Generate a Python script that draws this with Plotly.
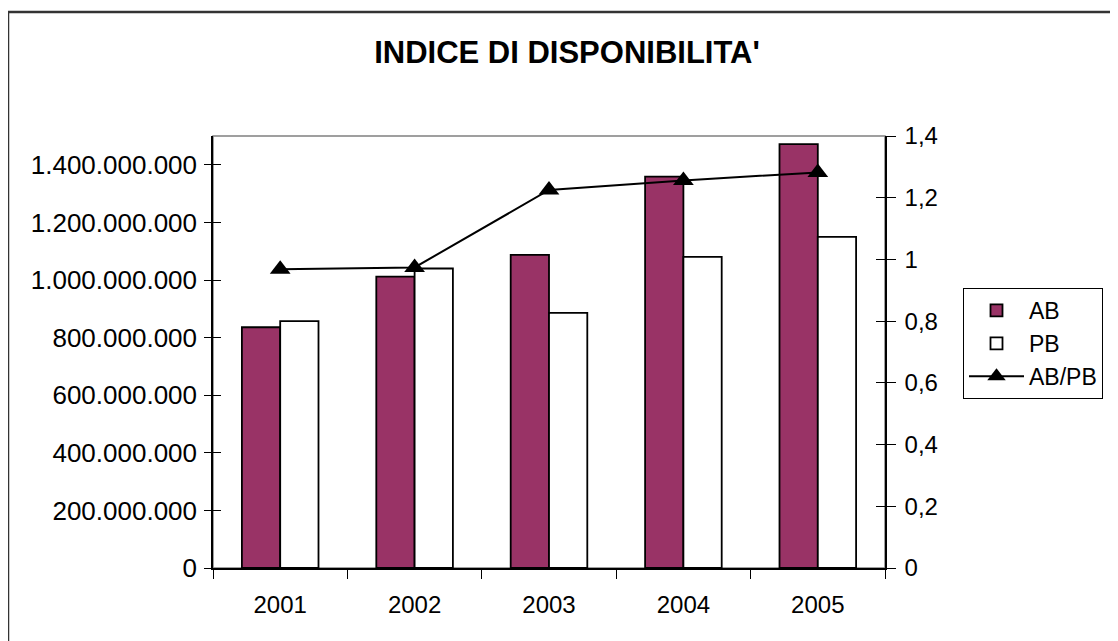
import plotly.graph_objects as go

years = ["2001", "2002", "2003", "2004", "2005"]
ab = [836e6, 1012e6, 1087e6, 1359e6, 1472e6]
pb = [857e6, 1040e6, 886e6, 1080e6, 1150e6]
ratio = [0.968, 0.974, 1.225, 1.256, 1.282]

W, H = 1118, 641
OFF = 8  # page body margin offset
L, R, T, B = 213 - OFF, 885 - OFF, 136 - OFF, 568 - OFF
FONT = "Arial, Liberation Sans, sans-serif"

def px_x(px):
    return (px - OFF - L) / (R - L)

def px_y(py):
    return (B - (py - OFF)) / (B - T)

fig = go.Figure()
fig.add_trace(go.Bar(x=years, y=ab, name="AB", marker=dict(color="#993366", line=dict(color="black", width=1.8))))
fig.add_trace(go.Bar(x=years, y=pb, name="PB", marker=dict(color="white", line=dict(color="black", width=1.8))))
fig.add_trace(go.Scatter(x=years, y=ratio, name="AB/PB", yaxis="y2", mode="lines+markers",
                         line=dict(color="black", width=2),
                         marker=dict(symbol="triangle-up", size=18, color="black")))

fig.update_layout(
    width=W, height=H,
    margin=dict(l=L, r=W - R, t=T, b=H - B),
    paper_bgcolor="white", plot_bgcolor="white",
    separators=",.",
    font=dict(family=FONT, size=24, color="black"),
    title=dict(text="<b>INDICE DI DISPONIBILITA'</b>", x=(567 - OFF) / W, xanchor="center",
               y=1 - (52 - OFF) / H, yanchor="middle", font=dict(size=31, family=FONT, color="black")),
    barmode="group", bargap=0.43, bargroupgap=0,
    showlegend=True,
    legend=dict(x=px_x(963), y=px_y(288), xanchor="left", yanchor="top",
                bordercolor="black", borderwidth=1, bgcolor="white",
                font=dict(size=23, family=FONT), tracegroupgap=0, itemwidth=55,
                entrywidth=165, entrywidthmode="pixels"),
    xaxis=dict(type="category", showline=True, linecolor="black", linewidth=1.5,
               ticks="outside", ticklen=9, tickcolor="black", tickson="boundaries",
               showgrid=False, tickfont=dict(size=24), ticklabelstandoff=14),
    yaxis=dict(range=[0, 1.5e9], dtick=2e8, tickformat=",d", showline=True, linecolor="black",
               linewidth=1.5, ticks="outside", ticklen=7, tickcolor="black", showgrid=False,
               zeroline=False, tickfont=dict(size=26), ticklabelstandoff=2),
    yaxis2=dict(range=[0, 1.4], dtick=0.2, overlaying="y", side="right", showline=True,
                linecolor="black", linewidth=1.5, ticks="outside", ticklen=9, tickcolor="black",
                showgrid=False, zeroline=False, tickfont=dict(size=24), ticklabelstandoff=4),
    yaxis3=dict(range=[0, 1.5e9], dtick=2e8, overlaying="y", side="left", ticks="inside",
                ticklen=8, tickcolor="black", showticklabels=False, showgrid=False,
                zeroline=False, showline=False),
    yaxis4=dict(range=[0, 1.4], dtick=0.2, overlaying="y", side="right", ticks="inside",
                ticklen=9, tickcolor="black", showticklabels=False, showgrid=False,
                zeroline=False, showline=False),
    shapes=[
        dict(type="rect", xref="paper", yref="paper", x0=0, x1=1, y0=0, y1=1,
             line=dict(color="#808080", width=1.5), layer="below"),
        dict(type="rect", xref="paper", yref="paper", x0=px_x(8), x1=px_x(1140),
             y0=px_y(680), y1=px_y(12), line=dict(color="#333333", width=2.5), layer="below"),
    ],
)
fig.add_trace(go.Scatter(x=[years[0]], y=[None], yaxis="y3", showlegend=False, hoverinfo="skip"))
fig.add_trace(go.Scatter(x=[years[0]], y=[None], yaxis="y4", showlegend=False, hoverinfo="skip"))

fig.write_html("out.html")
